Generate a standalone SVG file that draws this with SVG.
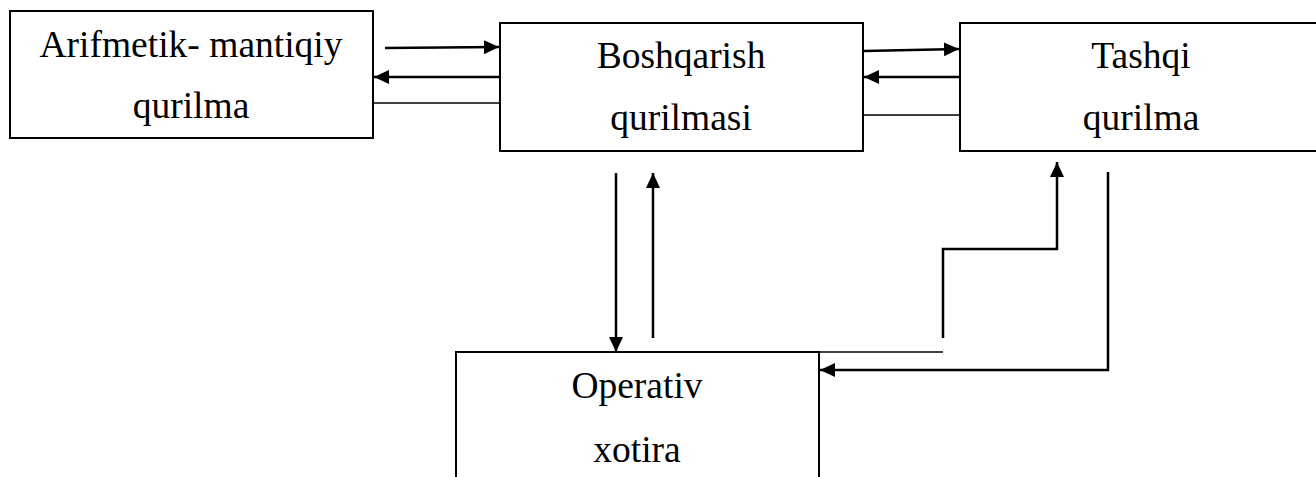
<svg xmlns="http://www.w3.org/2000/svg" width="1316" height="477" viewBox="0 0 1316 477">
<style>
.box{fill:#fff;stroke:#000;stroke-width:2}
.lbl{font-family:'Liberation Serif','Times New Roman',serif;font-size:37.5px;fill:#000;text-anchor:middle}
.arr{fill:none;stroke:#000;stroke-width:2.5;marker-end:url(#ah)}
.ln{fill:none;stroke:#000;stroke-width:1.5}
</style>
<defs>
<marker id="ah" markerUnits="userSpaceOnUse" markerWidth="16" markerHeight="16" viewBox="0 0 16 16" refX="15" refY="8" orient="auto">
<path d="M0,1 L15,8 L0,15 Z" fill="#000"/>
</marker>
</defs>
<rect width="1316" height="477" fill="#fff"/>
<g id="node-alu">
<rect class="box" x="10" y="11" width="363" height="127"/>
<text class="lbl" x="191" y="57">Arifmetik- mantiqiy</text>
<text class="lbl" x="191" y="118">qurilma</text>
</g>
<g id="node-control">
<rect class="box" x="500" y="23" width="363" height="128"/>
<text class="lbl" x="681" y="68">Boshqarish</text>
<text class="lbl" x="681" y="130">qurilmasi</text>
</g>
<g id="node-external">
<rect class="box" x="960" y="23" width="365" height="128"/>
<text class="lbl" x="1141" y="68">Tashqi</text>
<text class="lbl" x="1141" y="130">qurilma</text>
</g>
<g id="node-memory">
<rect class="box" x="456" y="352" width="363" height="140"/>
<text class="lbl" x="637" y="398">Operativ</text>
<text class="lbl" x="637" y="462">xotira</text>
</g>
<g id="connectors">
<path class="arr" d="M385,48 L499,47"/>
<path class="arr" d="M500,77 L374,77"/>
<path class="ln" d="M373,103 L500,103"/>
<path class="arr" d="M864,51 L959,49"/>
<path class="arr" d="M960,77 L864,77"/>
<path class="ln" d="M863,115 L960,115"/>
<path class="arr" d="M616,173 L616,352"/>
<path class="arr" d="M653,338 L653,173"/>
<path class="arr" d="M943,338 L943,249 L1057,249 L1057,162"/>
<path class="ln" d="M819,352 L943,352"/>
<path class="arr" d="M1108,172 L1108,370 L820,370"/>
</g>
</svg>
